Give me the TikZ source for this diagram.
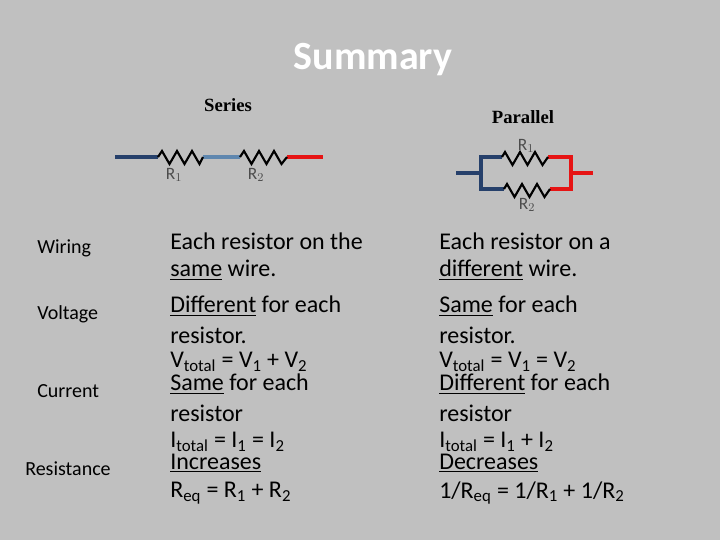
\documentclass[tikz,border=0pt]{standalone}
\usepackage{fontspec}
\setmainfont{Carlito}
\newfontfamily\serifb{Liberation Serif}
\begin{document}
\begin{tikzpicture}[x=0.75pt,y=-0.75pt,
  wire/.style={line width=3pt},
  res/.style={line width=1.6pt,black},
  txt/.style={anchor=west,inner sep=0pt,font=\fontsize{18}{20}\selectfont},
  lab/.style={anchor=west,inner sep=0pt,font=\fontsize{15}{17}\selectfont},
  rl/.style={inner sep=0pt,font=\fontsize{13}{14}\selectfont,text=black!70}]
\fill[fill={rgb,255:red,192;green,192;blue,192}] (0,0) rectangle (720,540);
\useasboundingbox (0,0) rectangle (720,540);
\definecolor{dblue}{RGB}{38,64,107}
\definecolor{lblue}{RGB}{95,135,175}
\definecolor{rred}{RGB}{230,20,20}
\node[font=\fontsize{30}{32}\selectfont\bfseries,text=white] (title) at (373,60) {Summary};
\node[font=\serifb\bfseries\fontsize{14}{16}\selectfont] (ser) at (228,105) {Series};
\node[font=\serifb\bfseries\fontsize{14}{16}\selectfont] (par) at (523,117) {Parallel};
% series
\coordinate (s0) at (115,157); \coordinate (s1) at (158,157); \coordinate (s2) at (203,157);
\coordinate (s3) at (240,157); \coordinate (s4) at (287,157); \coordinate (s5) at (323,157);
\draw[wire,dblue] (s0)--(s1);
\draw[wire,lblue] (s2)--(s3);
\draw[wire,rred] (s4)--(s5);
\draw[res] (s1) -- ++(4,-6) -- ++(7.5,13) -- ++(7.5,-13) -- ++(7.5,13) -- ++(7.5,-13) -- ++(7.5,13) -- (s2);
\draw[res] (s3) -- ++(4,-6) -- ++(7.5,13) -- ++(7.5,-13) -- ++(7.5,13) -- ++(7.5,-13) -- ++(7.5,13) -- (s4);
\node[rl] (r1) at (174,175) {R$_1$};
\node[rl] (r2) at (256,175) {R$_2$};
% parallel
\coordinate (p0) at (456,173); \coordinate (pl) at (481,173);
\coordinate (pt) at (481,157); \coordinate (pb) at (481,189);
\coordinate (a1) at (502,157); \coordinate (a2) at (548,157);
\coordinate (b1) at (504,189); \coordinate (b2) at (550,189);
\coordinate (qt) at (571,157); \coordinate (qb) at (571,189); \coordinate (qr) at (571,173); \coordinate (q0) at (593,173);
\draw[wire,dblue] (p0)--(pl);
\draw[wire,dblue] (a1)--(pt)--(pb)--(b1);
\draw[wire,rred] (a2)--(qt)--(qb)--(b2);
\draw[wire,rred] (qr)--(q0);
\draw[res] (a1) -- ++(3,-5) -- ++(7.5,13) -- ++(7.5,-13) -- ++(7.5,13) -- ++(7.5,-13) -- ++(7.5,13) -- (a2);
\draw[res] (b1) -- ++(3,-5) -- ++(7.5,13) -- ++(7.5,-13) -- ++(7.5,13) -- ++(7.5,-13) -- ++(7.5,13) -- (b2);
\node[rl] (pr1) at (526,146) {R$_1$};
\node[rl] (pr2) at (527,205) {R$_2$};
% labels
\node[lab] (lw) at (37,248) {Wiring};
\node[lab] (lv) at (37,314) {Voltage};
\node[lab] (lc) at (37,391) {Current};
\node[lab] (lr) at (25,469) {Resistance};
% series column
\node[txt] (a_1) at (170,241) {Each resistor on the};
\node[txt] (a_2) at (170,270) {\underline{same} wire.};
\node[txt] (a_3) at (170,306) {\underline{Different} for each};
\node[txt] (a_4) at (170,335) {resistor.};
\node[txt] (a_5) at (170,362) {V\textsubscript{total} = V\textsubscript{1} + V\textsubscript{2}};
\node[txt] (a_6) at (170,384) {\underline{Same} for each};
\node[txt] (a_7) at (170,413) {resistor};
\node[txt] (a_8) at (170,442) {I\textsubscript{total} = I\textsubscript{1} = I\textsubscript{2}};
\node[txt] (a_9) at (170,463) {\underline{Increases}};
\node[txt] (a_10) at (170,493) {R\textsubscript{eq} = R\textsubscript{1} + R\textsubscript{2}};
% parallel column
\node[txt] (b_1) at (439,241) {Each resistor on a};
\node[txt] (b_2) at (439,270) {\underline{different} wire.};
\node[txt] (b_3) at (439,306) {\underline{Same} for each};
\node[txt] (b_4) at (439,335) {resistor.};
\node[txt] (b_5) at (439,362) {V\textsubscript{total} = V\textsubscript{1} = V\textsubscript{2}};
\node[txt] (b_6) at (439,384) {\underline{Different} for each};
\node[txt] (b_7) at (439,413) {resistor};
\node[txt] (b_8) at (439,442) {I\textsubscript{total} = I\textsubscript{1} + I\textsubscript{2}};
\node[txt] (b_9) at (439,463) {\underline{Decreases}};
\node[txt] (b_10) at (439,493) {1/R\textsubscript{eq} = 1/R\textsubscript{1} + 1/R\textsubscript{2}};
\end{tikzpicture}
\end{document}
